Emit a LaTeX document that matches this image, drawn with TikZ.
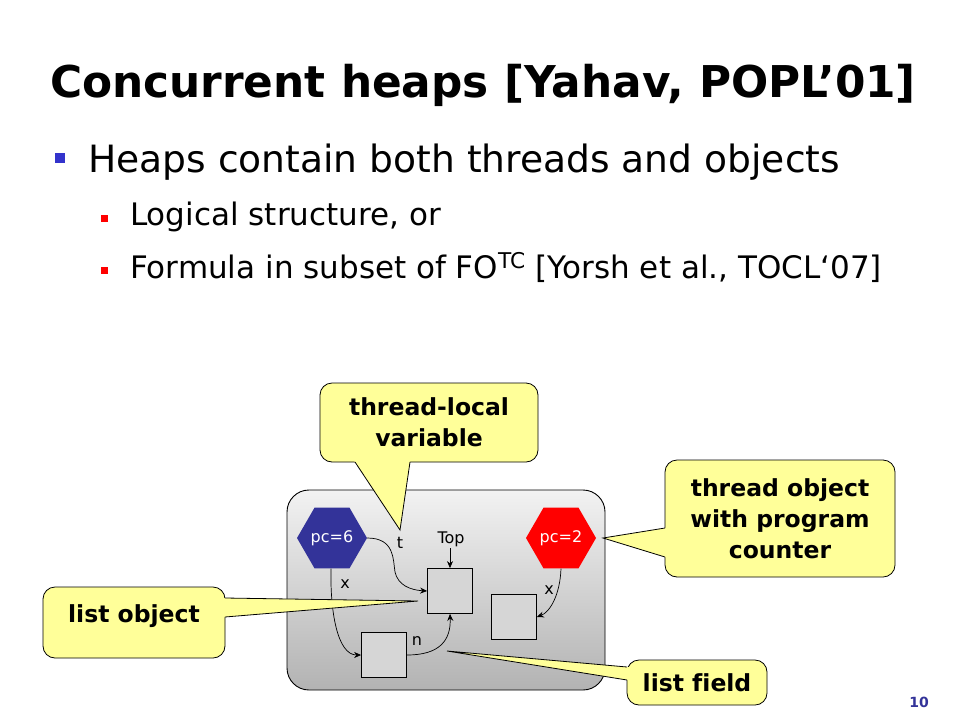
\documentclass[tikz,border=0pt]{standalone}
\usepackage{fontspec}
\setmainfont{DejaVu Sans}
\usetikzlibrary{arrows.meta,shapes.geometric,calc}
\definecolor{hexblue}{HTML}{333399}
\definecolor{hexred}{HTML}{FF0000}
\definecolor{callyellow}{HTML}{FFFF99}
\definecolor{sqgray}{HTML}{D6D6D6}
\definecolor{bulblue}{HTML}{3333CC}
\begin{document}
\begin{tikzpicture}[x=1pt,y=-1pt,
  heapbox/.style={draw=black, line width=0.9pt, rounded corners=22pt, top color=black!5, bottom color=black!30, inner sep=0pt},
  hexnode/.style={regular polygon, regular polygon sides=6, minimum size=70pt, inner sep=0pt, text=white, font=\fontsize{16}{18}\selectfont},
  objbox/.style={draw=black, line width=0.8pt, fill=sqgray, minimum size=45pt, inner sep=0pt},
  callbox/.style={draw=black, line width=0.8pt, fill=callyellow, rounded corners=12pt, align=center, inner sep=0pt, font=\fontsize{23.5}{31}\selectfont\bfseries},
  lbl/.style={inner sep=0pt, font=\fontsize{16}{18}\selectfont},
  arr/.style={-{Stealth[length=7pt,width=6pt]}, line width=0.7pt},
  tailline/.style={draw=black, line width=0.8pt, line join=miter},
]
\useasboundingbox (0,0) rectangle (960,720);
\fill[white] (0,0) rectangle (960,720);

% title and bullets
\node[anchor=base west, inner sep=0pt] (title) at (50,97) {\fontsize{43.8}{50}\selectfont\bfseries Concurrent heaps [Yahav, POPL’01]};
\node[fill=bulblue, minimum size=10pt, inner sep=0pt] (bul1) at (60,158) {};
\node[anchor=base west, inner sep=0pt] (txt1) at (88,172) {\fontsize{37.6}{42}\selectfont Heaps contain both threads and objects};
\node[fill=hexred, minimum size=7pt, inner sep=0pt] (bul2) at (104.5,218) {};
\node[anchor=base west, inner sep=0pt] (txt2) at (130,225) {\fontsize{31}{34}\selectfont Logical structure, or};
\node[fill=hexred, minimum size=7pt, inner sep=0pt] (bul3) at (104.5,270) {};
\node[anchor=base west, inner sep=0pt] (txt3) at (130,278) {\fontsize{31}{34}\selectfont Formula in subset of FO\textsuperscript{TC} [Yorsh et al., TOCL‘07]};

% heap
\node[heapbox, minimum width=318pt, minimum height=200pt] (heap) at (446,590) {};
\node[hexnode, fill=hexblue] (pc6) at (332,538) {pc=6};
\node[hexnode, fill=hexred] (pc2) at (561,538) {pc=2};
\node[objbox] (sq1) at (450,591) {};
\node[objbox] (sq2) at (384,655) {};
\node[objbox] (sq3) at (514,617) {};

\node[lbl] (lt) at (400,543) {t};
\node[lbl] (ltop) at (451,539) {Top};
\node[lbl] (lx1) at (345,584) {x};
\node[lbl] (lx2) at (549,590) {x};
\node[lbl] (ln) at (417,641) {n};

\coordinate (topstart) at (450,548);
\draw[arr] (topstart) -- (sq1.north);
\draw[arr] (pc6.east) .. controls (395,538) and (393,560) .. (395,572) .. controls (398,585) and (410,590) .. (sq1.west);
\draw[arr] ([xshift=-1pt]pc6.south) .. controls (330,610) and (337,655) .. (sq2.west);
\draw[arr] (sq2.east) .. controls (440,655) and (451,640) .. (sq1.south);
\draw[arr] (pc2.south) .. controls (560,595) and (550,612) .. (sq3.east);

% callouts
\node[callbox, minimum width=218pt, minimum height=79pt] (cl1) at (429,422.5) {thread-local\\variable};
\coordinate (c1a) at (355,462);
\coordinate (c1b) at (410,462);
\coordinate (c1t) at (400,530);
\fill[callyellow] ($(c1a)!-4pt!(c1t)$) -- (c1t) -- ($(c1b)!-4pt!(c1t)$) -- cycle;
\draw[tailline] (c1a) -- (c1t) -- (c1b);

\node[callbox, minimum width=182pt, minimum height=71pt] (cl2) at (134,622.5) {\raisebox{18pt}{list object}};
\coordinate (c2a) at (225,598);
\coordinate (c2b) at (225,617);
\coordinate (c2t) at (418,601);
\fill[callyellow] ($(c2a)!-4pt!(c2t)$) -- (c2t) -- ($(c2b)!-4pt!(c2t)$) -- cycle;
\draw[tailline] (c2a) -- (c2t) -- (c2b);

\node[callbox, minimum width=230pt, minimum height=117pt] (cl3) at (780,518.5) {thread object\\with program\\counter};
\coordinate (c3a) at (665,528);
\coordinate (c3b) at (665,557);
\coordinate (c3t) at (603,538);
\fill[callyellow] ($(c3a)!-4pt!(c3t)$) -- (c3t) -- ($(c3b)!-4pt!(c3t)$) -- cycle;
\draw[tailline] (c3a) -- (c3t) -- (c3b);

\node[callbox, minimum width=140pt, minimum height=45pt] (cl4) at (697,682.5) {list f\kern0pt ield};
\coordinate (c4a) at (627,667);
\coordinate (c4b) at (627,680);
\coordinate (c4t) at (447,651);
\fill[callyellow] ($(c4a)!-4pt!(c4t)$) -- (c4t) -- ($(c4b)!-4pt!(c4t)$) -- cycle;
\draw[tailline] (c4a) -- (c4t) -- (c4b);

% page number
\node[anchor=base, inner sep=0pt, text=hexblue] (pnum) at (919,707) {\fontsize{14}{16}\selectfont\bfseries 10};
\end{tikzpicture}
\end{document}
